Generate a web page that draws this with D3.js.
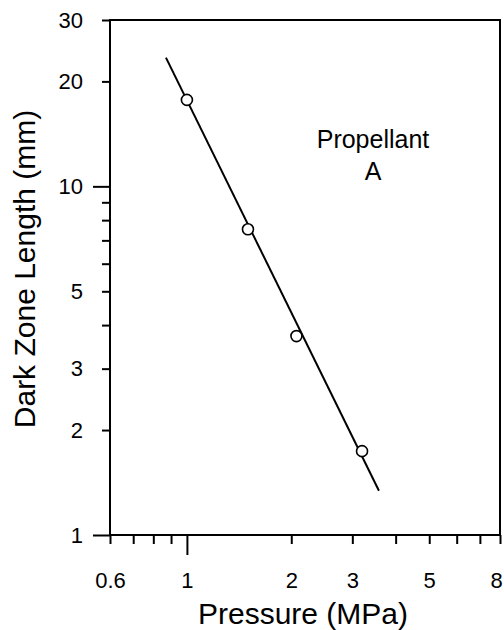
<!DOCTYPE html>
<html>
<head>
<meta charset="utf-8">
<script src="https://cdn.jsdelivr.net/npm/d3@7"></script>
<style>
  html, body { margin: 0; padding: 0; background: #fff; }
  svg { display: block; font-family: "Liberation Sans", Arial, sans-serif; }
</style>
</head>
<body>
<svg id="chart" width="504" height="630"></svg>
<script>
// Data
const pressure = [1.0, 1.5, 2.07, 3.2];          // MPa
const darkZone = [17.7, 7.53, 3.72, 1.74];       // mm
const fitPressure = [0.87, 3.58];
const fitDarkZone = [23.4, 1.34];

const xLabeledTicks = [0.6, 1, 2, 3, 5, 8];
const xMajorTicks = [1];
const xMinorTicks = [0.6, 0.7, 0.8, 0.9, 2, 3, 4, 5, 6, 7, 8];
const yLabeledTicks = [1, 2, 3, 5, 10, 20, 30];
const yMajorTicks = [1, 10];
const yMinorTicks = [2, 3, 4, 5, 6, 7, 8, 9, 20, 30];

const xTitle = "Pressure (MPa)";
const yTitle = "Dark Zone Length (mm)";
const annotation = ["Propellant", "A"];

(function () {
const svg = d3.select("#chart");
const mLeft = 110, mRight = 500, mTop = 20, mBottom = 535;

const x = d3.scaleLog().domain([0.6, 8]).range([mLeft, mRight]);
const y = d3.scaleLog().domain([1, 30]).range([mBottom, mTop]);

const fmt = d => String(d);

function styleAxis(g) {
  g.select(".domain").remove();
  g.selectAll("line").attr("stroke", "#000").attr("stroke-width", 2);
  g.selectAll("text").attr("fill", "#000").style("font-size", "22px")
    .attr("font-family", "'Liberation Sans', Arial, sans-serif");
}
// X tick marks
svg.append("g").attr("transform", `translate(0,${mBottom})`)
  .call(d3.axisBottom(x).tickValues(xMajorTicks).tickSize(20).tickFormat(""))
  .call(styleAxis);
svg.append("g").attr("transform", `translate(0,${mBottom})`)
  .call(d3.axisBottom(x).tickValues(xMinorTicks).tickSize(9).tickFormat(""))
  .call(styleAxis);
const xLab = svg.append("g").attr("transform", `translate(0,${mBottom})`)
  .call(d3.axisBottom(x).tickValues(xLabeledTicks).tickSize(0).tickPadding(37).tickFormat(fmt))
  .call(styleAxis);
// keep the last label inside the page, as in the reference
xLab.selectAll(".tick text").filter(d => d === 8).attr("dx", -4);

// Y tick marks
svg.append("g").attr("transform", `translate(${mLeft},0)`)
  .call(d3.axisLeft(y).tickValues(yMajorTicks).tickSize(17).tickFormat(""))
  .call(styleAxis);
svg.append("g").attr("transform", `translate(${mLeft},0)`)
  .call(d3.axisLeft(y).tickValues(yMinorTicks).tickSize(8).tickFormat(""))
  .call(styleAxis);
svg.append("g").attr("transform", `translate(${mLeft},0)`)
  .call(d3.axisLeft(y).tickValues(yLabeledTicks).tickSize(0).tickPadding(27).tickFormat(fmt))
  .call(styleAxis);

// Frame
svg.append("rect")
  .attr("x", mLeft).attr("y", mTop)
  .attr("width", mRight - mLeft).attr("height", mBottom - mTop)
  .attr("fill", "none").attr("stroke", "#000").attr("stroke-width", 2);

// Fit line
const line = d3.line().x(d => x(d[0])).y(d => y(d[1]));
svg.append("path")
  .datum(fitPressure.map((p, i) => [p, fitDarkZone[i]]))
  .attr("d", line)
  .attr("fill", "none").attr("stroke", "#000").attr("stroke-width", 2);

// Points
svg.selectAll("circle.pt")
  .data(pressure.map((p, i) => [p, darkZone[i]]))
  .join("circle")
  .attr("class", "pt")
  .attr("cx", d => x(d[0])).attr("cy", d => y(d[1]))
  .attr("r", 5.5)
  .attr("fill", "#fff").attr("stroke", "#000").attr("stroke-width", 1.6);

// Annotation
svg.append("text")
  .attr("x", 373).attr("y", 148)
  .attr("text-anchor", "middle")
  .style("font-size", "25px")
  .text(annotation[0]);
svg.append("text")
  .attr("x", 373).attr("y", 180)
  .attr("text-anchor", "middle")
  .style("font-size", "25px")
  .text(annotation[1]);

// Axis titles
svg.append("text")
  .attr("x", 303).attr("y", 624)
  .attr("text-anchor", "middle")
  .style("font-size", "30px")
  .text(xTitle);
svg.append("text")
  .attr("transform", `translate(35,269) rotate(-90)`)
  .attr("text-anchor", "middle")
  .style("font-size", "30px")
  .text(yTitle);
})();
</script>
</body>
</html>
